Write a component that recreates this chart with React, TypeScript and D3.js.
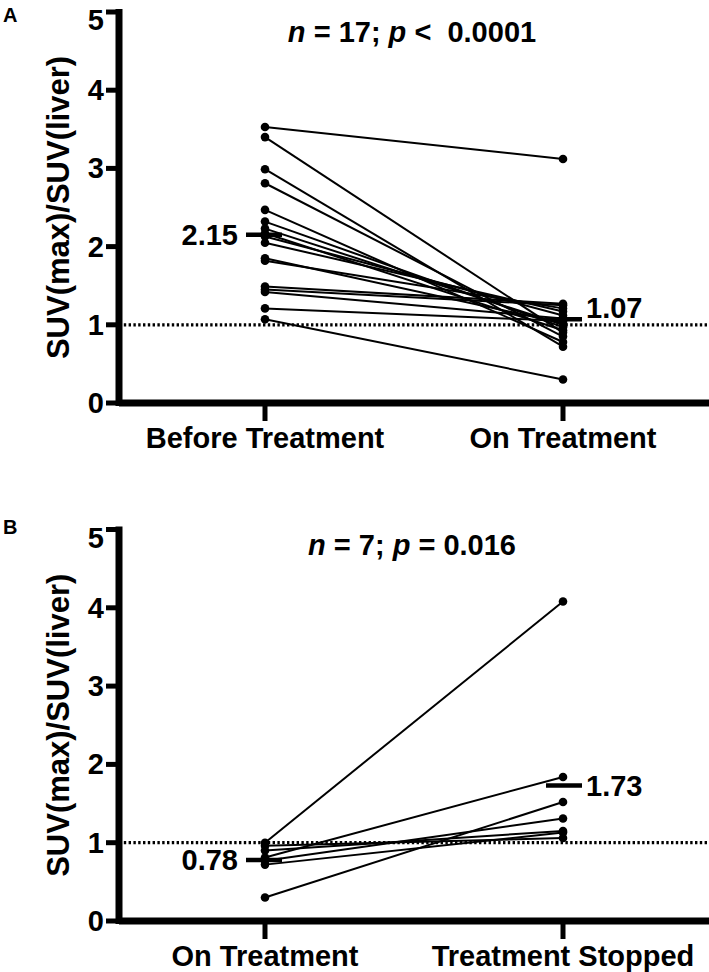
import React from 'react'
import * as d3 from 'd3'

// panel A: before vs on treatment
const catsA = ['Before Treatment', 'On Treatment']
const beforeA = [3.53, 3.40, 2.99, 2.81, 2.47, 2.32, 2.23, 2.17, 2.13, 2.05, 1.85, 1.82, 1.49, 1.45, 1.42, 1.21, 1.07]
const onA = [3.12, 0.90, 0.72, 0.85, 0.78, 0.97, 1.00, 0.93, 1.12, 1.17, 1.02, 1.21, 1.27, 1.25, 1.08, 1.05, 0.30]
const meansA = [2.15, 1.07]

// panel B: on treatment vs treatment stopped
const catsB = ['On Treatment', 'Treatment Stopped']
const onB = [1.00, 0.96, 0.90, 0.81, 0.77, 0.72, 0.30]
const stoppedB = [4.08, 1.06, 1.15, 1.84, 1.31, 1.13, 1.52]
const meansB = [0.78, 1.73]

const yTicks = [0, 1, 2, 3, 4, 5]
const refLine = 1

const W = 709
const H = 972
const font = '"Liberation Sans", Arial, sans-serif'

const Panel = ({ letter, top, bottom, cats, left, right, means, nText, pText, titleY, letterY, rightLabelDy }) => {
  const axisX = 119
  const y = d3.scaleLinear().domain([0, 5]).range([bottom, top])
  const x = d3.scalePoint().domain(cats).range([265, 563])
  const x0 = x(cats[0])
  const x1 = x(cats[1])
  const pairs = d3.zip(left, right)
  const line = d3.line().x((d, i) => (i === 0 ? x0 : x1)).y(d => y(d))

  return (
    <g fontFamily={font} fontWeight="bold">
      <text x={3} y={letterY} fontSize={20}>{letter}</text>

      {/* title */}
      <text x={412} y={titleY} fontSize={29} textAnchor="middle" style={{ whiteSpace: 'pre' }}>
        <tspan fontStyle="italic">n</tspan>
        <tspan>{` = ${nText}; `}</tspan>
        <tspan fontStyle="italic">p</tspan>
        <tspan>{pText}</tspan>
      </text>

      {/* y axis label */}
      <text
        transform={`translate(58,${(top + bottom) / 2}) rotate(-90)`}
        fontSize={31}
        textAnchor="middle"
        dominantBaseline="central"
      >SUV(max)/SUV(liver)</text>

      {/* reference line at 1 */}
      <line x1={axisX} x2={W} y1={y(refLine)} y2={y(refLine)} stroke="#000" strokeWidth={3.2} strokeDasharray="2.4 2.4" />

      {/* axes */}
      <line x1={axisX} x2={axisX} y1={top - 3} y2={bottom + 3} stroke="#000" strokeWidth={7} />
      <line x1={axisX} x2={W} y1={bottom} y2={bottom} stroke="#000" strokeWidth={7} />
      {yTicks.map(t => (
        <g key={t}>
          <line x1={106} x2={axisX} y1={y(t)} y2={y(t)} stroke="#000" strokeWidth={5} />
          <text x={104} y={Math.max(y(t), top + 8)} fontSize={29} textAnchor="end" dominantBaseline="central">{t}</text>
        </g>
      ))}
      {cats.map(c => (
        <g key={c}>
          <line x1={x(c)} x2={x(c)} y1={bottom} y2={bottom + 18} stroke="#000" strokeWidth={5} />
          <text x={x(c)} y={bottom + 45} fontSize={29} textAnchor="middle">{c}</text>
        </g>
      ))}

      {/* paired lines */}
      {pairs.map((p, i) => (
        <path key={i} d={line(p)} fill="none" stroke="#000" strokeWidth={2} />
      ))}
      {pairs.map((p, i) => (
        <g key={'pt' + i}>
          <circle cx={x0} cy={y(p[0])} r={4.3} fill="#000" />
          <circle cx={x1} cy={y(p[1])} r={4.3} fill="#000" />
        </g>
      ))}

      {/* means */}
      <line x1={x0 - 19} x2={x0 + 17} y1={y(means[0])} y2={y(means[0])} stroke="#000" strokeWidth={4.5} />
      <text x={x0 - 27} y={y(means[0])} fontSize={29} textAnchor="end" dominantBaseline="central">{means[0].toFixed(2)}</text>
      <line x1={x1 - 17} x2={x1 + 19} y1={y(means[1])} y2={y(means[1])} stroke="#000" strokeWidth={4.5} />
      <text x={x1 + 23} y={y(means[1]) + rightLabelDy} fontSize={29} dominantBaseline="central">{means[1].toFixed(2)}</text>
    </g>
  )
}

export default function App() {
  return (
    <svg width={W} height={H} viewBox={`0 0 ${W} ${H}`} style={{ position: 'absolute', left: 0, top: 0, background: '#fff' }}>
      <rect width={W} height={H} fill="#fff" />
      <Panel
        letter="A" letterY={22} top={12} bottom={403}
        cats={catsA} left={beforeA} right={onA} means={meansA}
        nText="17" pText=" <  0.0001" titleY={42} rightLabelDy={-11}
      />
      <Panel
        letter="B" letterY={534} top={529.5} bottom={921}
        cats={catsB} left={onB} right={stoppedB} means={meansB}
        nText="7" pText=" = 0.016" titleY={555} rightLabelDy={0}
      />
    </svg>
  )
}
